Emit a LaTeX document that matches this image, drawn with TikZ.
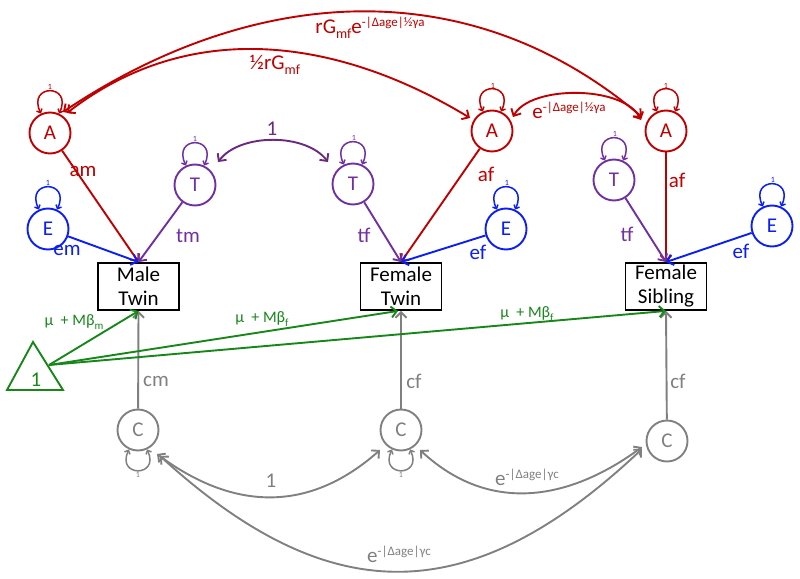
\documentclass[tikz,border=0pt]{standalone}
\usepackage{fontspec}
\setmainfont{Carlito}
\usetikzlibrary{arrows.meta}
\definecolor{cred}{HTML}{C00000}
\definecolor{cpurp}{HTML}{7030A0}
\definecolor{cdpurp}{HTML}{6A2A7E}
\definecolor{cblue}{HTML}{0A1EF5}
\definecolor{cgreen}{HTML}{17871A}
\definecolor{cgray}{HTML}{808080}
\newcommand{\mylo}[2]{\raisebox{-0.25em}{\fontsize{#1}{#1}\selectfont #2}}
\newcommand{\myhi}[2]{\raisebox{0.33em}{\fontsize{#1}{#1}\selectfont #2}}
\begin{document}
\begin{tikzpicture}[x=1pt,y=-1pt,line width=1.9pt,
  lat/.style={circle,draw,minimum size=41pt,inner sep=0pt,font=\fontsize{21}{21}\selectfont},
  obs/.style={rectangle,draw=black,minimum width=81pt,minimum height=47pt,inner sep=0pt,align=center,font=\fontsize{21}{24}\selectfont},
  lbl/.style={inner sep=0pt,font=\fontsize{21}{21}\selectfont},
  glbl/.style={inner sep=0pt,text=cgreen,font=\fontsize{16}{16}\selectfont},
  tinyl/.style={inner sep=0pt,font=\fontsize{8}{8}\selectfont},
  arr/.style={-{Straight Barb[length=5.5pt,width=11pt]}},
  darr/.style={{Straight Barb[length=5.5pt,width=11pt]}-{Straight Barb[length=5.5pt,width=11pt]}},
  lp/.style={line width=1.5pt,{Straight Barb[length=3pt,width=6pt]}-{Straight Barb[length=3pt,width=6pt]}},
]
\useasboundingbox (0,0) rectangle (800,578);

% latent nodes
\node[lat,draw=cred,text=cred] (A1) at (50,133) {A};
\node[lat,draw=cred,text=cred] (A2) at (492,131) {A};
\node[lat,draw=cred,text=cred] (A3) at (666,131) {A};
\node[lat,draw=cpurp,text=cpurp] (T1) at (195,185) {T};
\node[lat,draw=cpurp,text=cpurp] (T2) at (353,184) {T};
\node[lat,draw=cpurp,text=cpurp] (T3) at (614,180) {T};
\node[lat,draw=cblue,text=cblue] (E1) at (48,229) {E};
\node[lat,draw=cblue,text=cblue] (E2) at (506,229) {E};
\node[lat,draw=cblue,text=cblue] (E3) at (772,226) {E};
\node[lat,draw=cgray,text=cgray] (C1) at (138,430) {C};
\node[lat,draw=cgray,text=cgray] (C2) at (401,430) {C};
\node[lat,draw=cgray,text=cgray] (C3) at (667,441) {C};

% observed
\node[obs] (MT) at (138.5,286.5) {Male\\Twin};
\node[obs] (FT) at (401,286.5) {Female\\Twin};
\node[obs] (FS) at (666,286.5) {Female\\Sibling};

% triangle
\draw[cgreen,line join=miter] (7,390) -- (33,342) -- (63,390) -- cycle;
\node[lbl,text=cgreen] (one) at (36,380) {1};
\coordinate (tri) at (49,365);

% self loops (above)
\foreach \n/\c in {A1/cred,A2/cred,A3/cred,T1/cpurp,T2/cpurp,T3/cpurp,E1/cblue,E2/cblue,E3/cblue}{
  \draw[lp,\c] (\n.115) .. controls +(-14,-30) and +(14,-30) .. (\n.65);
}
\node[tinyl,text=cred] (l1a1) at (50,87) {1};
\node[tinyl,text=cred] (l1a2) at (493,86) {1};
\node[tinyl,text=cred] (l1a3) at (666,86) {1};
\node[tinyl,text=cpurp] (l1t1) at (195,139) {1};
\node[tinyl,text=cpurp] (l1t2) at (354,138) {1};
\node[tinyl,text=cpurp] (l1t3) at (615,134) {1};
\node[tinyl,text=cblue] (l1e1) at (48,183) {1};
\node[tinyl,text=cblue] (l1e2) at (507,183) {1};
\node[tinyl,text=cblue] (l1e3) at (773,180) {1};

% self loops (below)
\foreach \n in {C1,C2}{
  \draw[lp,cgray] (\n.-115) .. controls +(-13,28) and +(13,28) .. (\n.-65);
}
\node[tinyl,text=cgray] (l1c1) at (138,475) {1};
\node[tinyl,text=cgray] (l1c2) at (401,475) {1};

% paths to Male Twin
\draw[arr,cred] (A1) -- (MT.north);
\draw[arr,cpurp] (T1) -- (MT.north);
\draw[arr,cblue] (E1) -- (MT.north);
\node[lbl,text=cred] (am) at (83,171) {am};
\node[lbl,text=cpurp] (tm) at (188,236) {tm};
\node[lbl,text=cblue] (em) at (67,250) {em};

% paths to Female Twin
\draw[arr,cred] (A2) -- (FT.north);
\draw[arr,cpurp] (T2) -- (FT.north);
\draw[arr,cblue] (E2) -- (FT.north);
\node[lbl,text=cred] (af1) at (486,174) {af};
\node[lbl,text=cpurp] (tf1) at (364,235) {tf};
\node[lbl,text=cblue] (ef1) at (478,252) {ef};

% paths to Female Sibling
\draw[arr,cred] (A3) -- (FS.north);
\draw[arr,cpurp] (T3) -- (FS.north);
\draw[arr,cblue] (E3) -- (FS.north);
\node[lbl,text=cred] (af2) at (677,180) {af};
\node[lbl,text=cpurp] (tf2) at (627,234) {tf};
\node[lbl,text=cblue] (ef2) at (741,251) {ef};

% C paths
\draw[arr,cgray] (C1) -- (MT.south);
\draw[arr,cgray] (C2) -- (FT.south);
\draw[arr,cgray] (C3) -- (FS.south);
\node[lbl,text=cgray] (cm) at (156,381) {cm};
\node[lbl,text=cgray] (cf1) at (414,381) {cf};
\node[lbl,text=cgray] (cf2) at (678,381) {cf};

% means
\draw[arr,cgreen] (tri) -- (MT.south);
\draw[arr,cgreen] (tri) -- ([xshift=-3pt]FT.south);
\draw[arr,cgreen] (tri) -- (FS.south);
\node[glbl] (mu1) at (74,322) {μ\ \ + Mβ\mylo{11}{m}};
\node[glbl] (mu2) at (262,319) {μ\ \ + Mβ\mylo{11}{f}};
\node[glbl] (mu3) at (527,314) {μ\ \ + Mβ\mylo{11}{f}};

% A covariances
\draw[darr,cred] ([shift={(13,-21)}]A1.center) .. controls (248,-12) and (465,-33) .. ([shift={(-24,-14)}]A3.center);
\draw[darr,cred] ([shift={(17,-20)}]A1.center) .. controls (195,14) and (345,42) .. ([shift={(-22,-13)}]A2.center);
\draw[darr,cred] ([shift={(21,-14)}]A2.center) .. controls (530,85) and (624,85) .. ([shift={(-25,-11)}]A3.center);
\node[lbl,text=cred] (ra) at (370,28) {rG\mylo{14}{mf}e\myhi{13}{-|Δage|½γa}};
\node[lbl,text=cred] (hr) at (275,65) {½rG\mylo{14}{mf}};
\node[lbl,text=cred] (ea) at (569,110) {e\myhi{13}{-|Δage|½γa}};

% T covariance
\draw[darr,cdpurp] ([shift={(23,-23)}]T1.center) .. controls (240,133) and (306,133) .. ([shift={(-25,-22)}]T2.center);
\node[lbl,text=cdpurp] (t1) at (272,129) {1};

% C covariances
\draw[darr,cgray] ([shift={(19,24)}]C1.center) .. controls (235,512) and (310,512) .. ([shift={(-21,20)}]C2.center);
\draw[darr,cgray] ([shift={(19,20)}]C2.center) .. controls (490,515) and (570,500) .. ([shift={(-25,6)}]C3.center);
\draw[darr,cgray] ([shift={(22,26)}]C1.center) .. controls (330,611) and (470,611) .. ([shift={(-25,8)}]C3.center);
\node[lbl,text=cgray] (c1) at (271,481) {1};
\node[lbl,text=cgray] (ec1) at (527,477) {e\myhi{13}{-|Δage|γc}};
\node[lbl,text=cgray] (ec2) at (399,554) {e\myhi{13}{-|Δage|γc}};
\end{tikzpicture}
\end{document}
